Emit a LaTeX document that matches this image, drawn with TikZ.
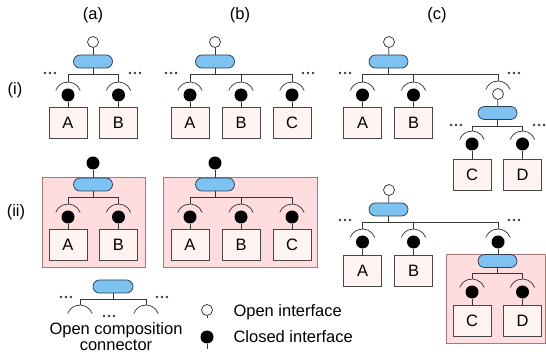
\documentclass[tikz,border=0pt]{standalone}
\usepackage{fontspec}
\setmainfont{Liberation Sans}
\definecolor{pillblue}{RGB}{125,194,240}
\definecolor{pilledge}{RGB}{45,60,80}
\definecolor{boxfill}{RGB}{255,244,242}
\definecolor{boxedge}{RGB}{70,70,70}
\definecolor{lineg}{RGB}{55,55,55}
\definecolor{shellfill}{RGB}{255,221,222}
\definecolor{shelledge}{RGB}{165,120,120}
% cup of a socket round an interface node
\newcommand{\drawsocket}[1]{\draw[wire] ([shift={(20:13pt)}]#1.center) arc (20:160:13pt);}
% three dots of an open end
\newcommand{\tdots}[2]{\foreach \d in {-5,0,5} \fill[lineg] ({#1+\d},#2) circle (1.3pt);}

\begin{document}
\begin{tikzpicture}[x=1pt,y=-1pt,
  font=\fontsize{16.5}{19}\selectfont,
  wire/.style={draw=lineg, line width=0.75pt},
  comp/.style={draw=boxedge, fill=boxfill, line width=0.75pt, minimum width=38pt, minimum height=31pt, inner sep=0pt},
  pill/.style={draw=pilledge, fill=pillblue, line width=0.75pt, rounded corners=6.5pt, minimum width=39pt, minimum height=13pt, inner sep=0pt},
  openif/.style={circle, draw=lineg, fill=white, line width=0.75pt, minimum size=11pt, inner sep=0pt},
  closedif/.style={circle, fill=black, minimum size=13pt, inner sep=0pt},
  shell/.style={draw=shelledge, fill=shellfill, line width=0.75pt}]
\useasboundingbox (0,0) rectangle (546,355);

% Text Node: column and row labels
\node (la) at (93,15) {(a)};
\node (lb) at (240,15) {(b)};
\node (lc) at (437,15) {(c)};
\node (li) at (15,90) {(i)};
\node (lii) at (16,212) {(ii)};

%Tree (i)(a)
\node[openif] (iatop) at (93,42) {};
\node[pill] (iapill) at (93,61.5) {};
\foreach \n/\x/\t in {1/68/A, 2/118.5/B} {
  \coordinate (ia\n) at (\x,74);
  \node[closedif] (iab\n) at (\x,95) {};
  \node[comp] (iac\n) at (\x,122.5) {\t};
  \draw[wire] (ia\n) -- ([yshift=13pt]iab\n.center);
  \drawsocket{iab\n}
  \draw[wire] (iab\n) -- (iac\n);
}
\draw[wire] (iatop) -- (iapill);
\draw[wire] (iapill) -- (iapill |- ia1);
\draw[wire] (ia1) -- (ia2);
\tdots{50}{73} \tdots{135}{73}

%Tree (i)(b)
\node[openif] (ibtop) at (215,42) {};
\node[pill] (ibpill) at (215,61.5) {};
\foreach \n/\x/\t in {1/190/A, 2/241/B, 3/292/C} {
  \coordinate (ib\n) at (\x,74);
  \node[closedif] (ibb\n) at (\x,95) {};
  \node[comp] (ibc\n) at (\x,122.5) {\t};
  \draw[wire] (ib\n) -- ([yshift=13pt]ibb\n.center);
  \drawsocket{ibb\n}
  \draw[wire] (ibb\n) -- (ibc\n);
}
\draw[wire] (ibtop) -- (ibpill);
\draw[wire] (ibpill) -- (ibpill |- ib1);
\draw[wire] (ib1) -- (ib3);
\tdots{171}{73} \tdots{308}{73}

%Tree (i)(c)
\node[openif] (ictop) at (389,42) {};
\node[pill] (icpill) at (388.5,61.5) {};
\foreach \n/\x/\t in {1/362.5/A, 2/413.5/B} {
  \coordinate (ic\n) at (\x,74);
  \node[closedif] (icb\n) at (\x,95) {};
  \node[comp] (icc\n) at (\x,122.5) {\t};
  \draw[wire] (ic\n) -- ([yshift=13pt]icb\n.center);
  \drawsocket{icb\n}
  \draw[wire] (icb\n) -- (icc\n);
}
\coordinate (ic3) at (498,74);
\node[openif] (icb3) at (498,94) {};
\draw[wire] (ic3) -- ([yshift=13pt]icb3.center);
\drawsocket{icb3}
\node[pill] (icsub) at (497.5,113) {};
\foreach \n/\x/\t in {1/472/C, 2/522.5/D} {
  \coordinate (ics\n) at (\x,126);
  \node[closedif] (icsb\n) at (\x,144) {};
  \node[comp] (icsc\n) at (\x,174.5) {\t};
  \draw[wire] (ics\n) -- ([yshift=13pt]icsb\n.center);
  \drawsocket{icsb\n}
  \draw[wire] (icsb\n) -- (icsc\n);
}
\draw[wire] (ictop) -- (icpill);
\draw[wire] (icpill) -- (icpill |- ic1);
\draw[wire] (ic1) -- (ic3);
\draw[wire] (icb3) -- (icsub);
\draw[wire] (icsub) -- (icsub |- ics1);
\draw[wire] (ics1) -- (ics2);
\tdots{345}{73} \tdots{514}{73} \tdots{456}{125} \tdots{539}{125}

%Tree (ii)(a)
\draw[shell] (42,177) rectangle (145,267);
\node[closedif] (iiatop) at (93,163) {};
\draw[wire] (iiatop) -- (93,184);
\node[pill] (iiapill) at (93,184.5) {};
\foreach \n/\x/\t in {1/68/A, 2/118.5/B} {
  \coordinate (iia\n) at (\x,197);
  \node[closedif] (iiab\n) at (\x,217) {};
  \node[comp] (iiac\n) at (\x,244.5) {\t};
  \draw[wire] (iia\n) -- ([yshift=13pt]iiab\n.center);
  \drawsocket{iiab\n}
  \draw[wire] (iiab\n) -- (iiac\n);
}
\draw[wire] (iiapill) -- (iiapill |- iia1);
\draw[wire] (iia1) -- (iia2);

%Tree (ii)(b)
\draw[shell] (163,177) rectangle (317,267);
\node[closedif] (iibtop) at (215,163) {};
\draw[wire] (iibtop) -- (215,184);
\node[pill] (iibpill) at (215,184.5) {};
\foreach \n/\x/\t in {1/190/A, 2/241/B, 3/292/C} {
  \coordinate (iib\n) at (\x,197);
  \node[closedif] (iibb\n) at (\x,217) {};
  \node[comp] (iibc\n) at (\x,244.5) {\t};
  \draw[wire] (iib\n) -- ([yshift=13pt]iibb\n.center);
  \drawsocket{iibb\n}
  \draw[wire] (iibb\n) -- (iibc\n);
}
\draw[wire] (iibpill) -- (iibpill |- iib1);
\draw[wire] (iib1) -- (iib3);

%Tree (ii)(c)
\draw[shell] (446,254) rectangle (545,343);
\node[openif] (iictop) at (389,190) {};
\node[pill] (iicpill) at (388.5,209.5) {};
\foreach \n/\x/\t in {1/362.5/A, 2/413.5/B} {
  \coordinate (iic\n) at (\x,222);
  \node[closedif] (iicb\n) at (\x,242) {};
  \node[comp] (iicc\n) at (\x,270.5) {\t};
  \draw[wire] (iic\n) -- ([yshift=13pt]iicb\n.center);
  \drawsocket{iicb\n}
  \draw[wire] (iicb\n) -- (iicc\n);
}
\coordinate (iic3) at (498,222);
\node[closedif] (iicb3) at (498,242) {};
\draw[wire] (iic3) -- ([yshift=13pt]iicb3.center);
\drawsocket{iicb3}
\draw[wire] (iicb3) -- (498,261);
\node[pill] (iicsub) at (497.5,261) {};
\foreach \n/\x/\t in {1/472/C, 2/522.5/D} {
  \coordinate (iics\n) at (\x,273);
  \node[closedif] (iicsb\n) at (\x,292) {};
  \node[comp] (iicsc\n) at (\x,321) {\t};
  \draw[wire] (iics\n) -- ([yshift=13pt]iicsb\n.center);
  \drawsocket{iicsb\n}
  \draw[wire] (iicsb\n) -- (iicsc\n);
}
\draw[wire] (iictop) -- (iicpill);
\draw[wire] (iicpill) -- (iicpill |- iic1);
\draw[wire] (iic1) -- (iic3);
\draw[wire] (iicsub) -- (iicsub |- iics1);
\draw[wire] (iics1) -- (iics2);
\tdots{345}{220} \tdots{514}{220}

%Legend: open composition connector
\node[pill, minimum width=40pt] (lgpill) at (113,286.5) {};
\coordinate (lg1) at (80,299);
\coordinate (lg2) at (146,299);
\coordinate (lgs1) at (80,318);
\coordinate (lgs2) at (146,318);
\draw[wire] (lgpill) -- (lgpill |- lg1);
\draw[wire] (lg1) -- (lg2);
\draw[wire] (lg1) -- ([yshift=13pt]lgs1.center);
\draw[wire] (lg2) -- ([yshift=13pt]lgs2.center);
\drawsocket{lgs1} \drawsocket{lgs2}
\tdots{66}{297} \tdots{162}{297} \tdots{109}{316}
\node[align=center, inner sep=0pt, font=\fontsize{16.5}{16}\selectfont] (lgtext) at (116,337) {Open composition\\connector};

%Legend: interfaces
\node[openif] (lgopen) at (207,310) {};
\coordinate (lgo) at (207,318);
\draw[wire] (lgopen) -- (lgo);
\node[closedif] (lgclosed) at (207,337) {};
\coordinate (lgc) at (207,349);
\draw[wire] (lgclosed) -- (lgc);
\node[anchor=west] (lgotext) at (230,312) {Open interface};
\node[anchor=west] (lgctext) at (230,337) {Closed interface};

\end{tikzpicture}
\end{document}
